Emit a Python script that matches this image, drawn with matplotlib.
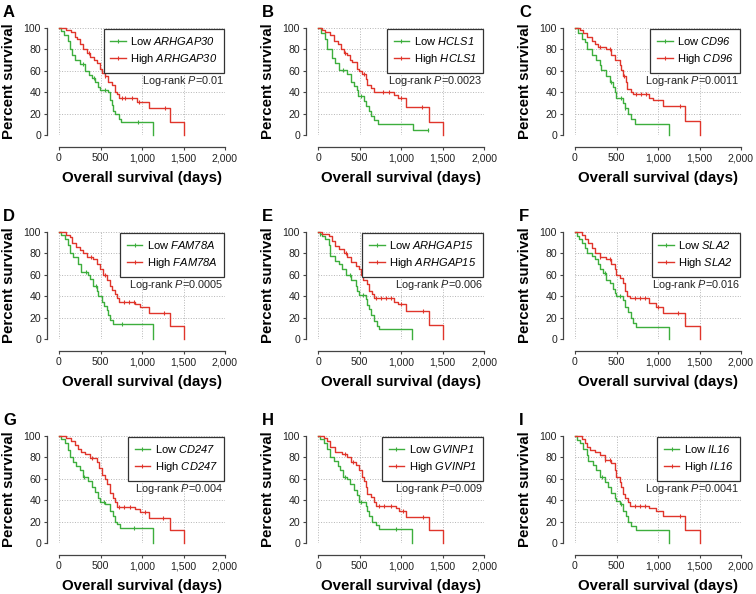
import numpy as np
import matplotlib
matplotlib.use("Agg")
import matplotlib.pyplot as plt
from matplotlib.lines import Line2D

plt.rcParams['font.family'] = ['Liberation Sans', 'DejaVu Sans']
# mathtext only used for the italic gene names / P, so make it all italic
plt.rcParams['mathtext.fontset'] = 'custom'
plt.rcParams['mathtext.rm'] = 'Liberation Sans:italic'
plt.rcParams['mathtext.it'] = 'Liberation Sans:italic'

#------------------------- panel info -------------------------
letters = ['A', 'B', 'C', 'D', 'E', 'F', 'G', 'H', 'I']
genes = ['ARHGAP30', 'HCLS1', 'CD96', 'FAM78A', 'ARHGAP15', 'SLA2',
         'CD247', 'GVINP1', 'IL16']
pvals = ['0.01', '0.0023', '0.0011', '0.0005', '0.006', '0.016',
         '0.004', '0.009', '0.0041']

#------------------------- curves (days, % survival) -------------------------
# A
a_low_t = [0, 25, 60, 110, 138, 162, 190, 250, 312, 365, 393, 433, 474, 494, 595, 615, 636, 656, 676, 717, 745, 1130]
a_low_s = [100, 97, 93, 88, 80, 75, 70, 66, 60, 56, 53, 50, 45, 42, 40, 33, 28, 22, 20, 15, 12, 0]
a_low_c = [290, 420, 560, 950]
a_high_t = [0, 90, 150, 190, 219, 251, 291, 340, 372, 421, 462, 494, 514, 555, 595, 636, 676, 696, 717, 939, 1081, 1335, 1510]
a_high_s = [100, 98, 96, 92, 90, 85, 80, 77, 73, 70, 67, 62, 58, 55, 50, 47, 40, 38, 35, 31, 25, 12, 0]
a_high_c = [360, 560, 760, 800, 880, 960, 1280]
# B
b_low_t = [0, 40, 80, 110, 170, 210, 250, 352, 393, 433, 466, 482, 555, 575, 615, 644, 676, 717, 1142, 1320]
b_low_s = [100, 95, 90, 80, 72, 67, 61, 57, 50, 46, 42, 36, 32, 27, 22, 18, 14, 10, 5, 5]
b_low_c = [300, 520, 1320]
b_high_t = [0, 50, 90, 150, 190, 239, 280, 312, 352, 385, 413, 466, 494, 534, 575, 595, 636, 676, 919, 960, 1061, 1340, 1510]
b_high_s = [100, 98, 96, 93, 88, 85, 80, 77, 75, 70, 68, 62, 60, 57, 52, 47, 44, 40, 37, 35, 26, 12, 0]
b_high_c = [330, 560, 780, 850, 1000, 1250]
# C
c_low_t = [0, 40, 80, 120, 147, 199, 259, 299, 319, 378, 418, 458, 478, 498, 578, 598, 637, 677, 717, 1127]
c_low_s = [100, 95, 90, 87, 80, 75, 70, 65, 61, 55, 50, 45, 40, 35, 30, 25, 20, 15, 10, 0]
c_low_c = [430, 560, 600]
c_high_t = [0, 60, 100, 147, 199, 239, 279, 378, 438, 478, 538, 558, 578, 610, 625, 677, 697, 896, 936, 1056, 1323, 1502]
c_high_s = [100, 98, 95, 92, 88, 85, 82, 80, 75, 70, 65, 61, 55, 50, 43, 40, 38, 35, 33, 27, 13, 0]
c_high_c = [300, 420, 590, 740, 800, 860, 1260]
# D
d_low_t = [0, 28, 69, 109, 138, 170, 231, 271, 352, 372, 413, 453, 474, 514, 543, 575, 595, 615, 656, 1130]
d_low_s = [100, 97, 93, 88, 80, 77, 70, 63, 60, 56, 50, 45, 40, 35, 31, 27, 22, 18, 14, 0]
d_low_c = [320, 440, 760]
d_high_t = [0, 89, 130, 162, 202, 251, 291, 332, 413, 453, 494, 534, 575, 615, 644, 676, 696, 725, 919, 980, 1081, 1335, 1510]
d_high_s = [100, 97, 95, 90, 86, 83, 80, 77, 75, 70, 65, 60, 55, 50, 46, 42, 38, 35, 33, 30, 24, 12, 0]
d_high_c = [380, 560, 780, 840, 900, 1260]
# E
e_low_t = [0, 20, 49, 89, 130, 150, 210, 251, 291, 332, 393, 453, 474, 494, 575, 595, 615, 644, 676, 708, 737, 1130]
e_low_s = [100, 98, 96, 93, 88, 78, 73, 70, 65, 60, 55, 50, 45, 41, 37, 32, 28, 22, 17, 12, 9, 0]
e_low_c = [30, 380, 540]
e_high_t = [0, 49, 130, 170, 210, 251, 312, 352, 393, 453, 494, 522, 547, 595, 615, 656, 676, 919, 960, 1061, 1340, 1510]
e_high_s = [100, 98, 96, 92, 87, 84, 80, 77, 72, 68, 65, 60, 55, 51, 45, 42, 38, 35, 33, 26, 13, 0]
e_high_c = [340, 700, 760, 820, 880, 1000, 1260]
# F
f_low_t = [0, 28, 52, 80, 120, 147, 199, 239, 279, 299, 339, 378, 418, 458, 478, 498, 578, 598, 637, 677, 697, 737, 1127]
f_low_s = [100, 96, 93, 90, 85, 80, 78, 75, 70, 65, 62, 55, 52, 47, 43, 40, 36, 30, 25, 20, 15, 11, 0]
f_low_c = [360, 540]
f_high_t = [0, 80, 120, 159, 199, 239, 299, 378, 438, 478, 498, 538, 578, 598, 625, 657, 896, 976, 1056, 1323, 1502]
f_high_s = [100, 97, 93, 90, 85, 80, 77, 75, 70, 65, 60, 57, 52, 45, 40, 38, 34, 30, 24, 12, 0]
f_high_c = [300, 420, 720, 780, 840, 1000, 1240]
# G
g_low_t = [0, 28, 69, 109, 138, 170, 210, 251, 291, 352, 393, 433, 474, 494, 555, 615, 656, 676, 696, 737, 1130]
g_low_s = [100, 97, 93, 87, 80, 76, 72, 68, 62, 58, 52, 48, 42, 38, 36, 30, 25, 20, 18, 14, 0]
g_low_c = [300, 540, 900]
g_high_t = [0, 89, 150, 190, 231, 271, 312, 372, 453, 486, 514, 555, 583, 615, 648, 676, 696, 919, 980, 1081, 1335, 1510]
g_high_s = [100, 98, 95, 92, 88, 85, 83, 79, 76, 70, 64, 60, 55, 47, 42, 38, 34, 32, 29, 23, 12, 0]
g_high_c = [400, 720, 780, 850, 1040, 1250]
# H
h_low_t = [0, 28, 69, 109, 150, 190, 239, 271, 304, 352, 385, 433, 466, 494, 575, 595, 615, 656, 696, 737, 1130]
h_low_s = [100, 97, 93, 88, 80, 77, 72, 68, 62, 60, 55, 50, 45, 38, 35, 30, 25, 20, 17, 13, 0]
h_low_c = [320, 520, 940]
h_high_t = [0, 69, 109, 150, 210, 291, 352, 393, 453, 494, 534, 555, 575, 595, 636, 676, 696, 939, 980, 1061, 1340, 1510]
h_high_s = [100, 98, 95, 90, 85, 83, 80, 76, 73, 68, 62, 58, 52, 46, 43, 38, 35, 33, 30, 24, 12, 0]
h_high_c = [330, 420, 740, 800, 880, 1020, 1260]
# I
i_low_t = [0, 28, 60, 100, 139, 159, 219, 259, 299, 359, 398, 438, 478, 498, 538, 578, 610, 637, 677, 737, 1127]
i_low_s = [100, 96, 93, 88, 82, 77, 73, 68, 62, 57, 52, 47, 42, 39, 36, 30, 25, 20, 16, 12, 0]
i_low_c = [320, 560]
i_high_t = [0, 80, 120, 147, 179, 239, 299, 359, 438, 478, 498, 538, 558, 578, 598, 637, 657, 896, 976, 1056, 1323, 1502]
i_high_s = [100, 97, 93, 90, 87, 85, 82, 78, 75, 68, 62, 57, 52, 46, 42, 38, 35, 33, 30, 25, 12, 0]
i_high_c = [360, 420, 720, 780, 840, 1260]

x_ticks = [0, 500, 1000, 1500, 2000]
x_ticklabels = ['0', '500', '1,000', '1,500', '2,000']
y_ticks = [0, 20, 40, 60, 80, 100]

panels = [
    (a_low_t, a_low_s, a_low_c, a_high_t, a_high_s, a_high_c),
    (b_low_t, b_low_s, b_low_c, b_high_t, b_high_s, b_high_c),
    (c_low_t, c_low_s, c_low_c, c_high_t, c_high_s, c_high_c),
    (d_low_t, d_low_s, d_low_c, d_high_t, d_high_s, d_high_c),
    (e_low_t, e_low_s, e_low_c, e_high_t, e_high_s, e_high_c),
    (f_low_t, f_low_s, f_low_c, f_high_t, f_high_s, f_high_c),
    (g_low_t, g_low_s, g_low_c, g_high_t, g_high_s, g_high_c),
    (h_low_t, h_low_s, h_low_c, h_high_t, h_high_s, h_high_c),
    (i_low_t, i_low_s, i_low_c, i_high_t, i_high_s, i_high_c),
]

GREEN = '#3dae3d'
RED = '#e0352b'
W, H = 756, 594

#survival value at censor times (step lookup)
def censor_y(t, s, c):
    t = np.asarray(t)
    s = np.asarray(s)
    idx = np.searchsorted(t, c, side='right') - 1
    return s[idx]

def km_plot(ax, t, s, c, color):
    ax.step(t, s, where='post', color=color, lw=1.0, clip_on=False, zorder=3)
    ax.plot(c, censor_y(t, s, c), ls='none', marker='|', ms=3.5, mew=0.8,
            color=color, clip_on=False, zorder=3)

fig = plt.figure(figsize=(W/100, H/100), dpi=100)

col_left = [59, 318, 575]
row_top = [28, 232, 436]
ax_w, ax_h = 166, 107

for k in range(9):
    r, cidx = divmod(k, 3)
    left = col_left[cidx]
    top = row_top[r]
    ax = fig.add_axes([left/W, 1 - (top + ax_h)/H, ax_w/W, ax_h/H])
    lt, ls_, lc, ht, hs, hc = panels[k]
    km_plot(ax, lt, ls_, lc, GREEN)
    km_plot(ax, ht, hs, hc, RED)

    ax.set_xlim(0, 2000)
    ax.set_ylim(0, 100)
    ax.set_xticks(x_ticks)
    ax.set_xticklabels(x_ticklabels)
    ax.set_yticks(y_ticks)
    ax.grid(True, color='#b5b5b5', ls=':', lw=0.7)
    ax.set_axisbelow(True)
    for side in ['top', 'right']:
        ax.spines[side].set_visible(False)
    for side in ['left', 'bottom']:
        ax.spines[side].set_position(('outward', 8.5))
        ax.spines[side].set_color('#444444')
        ax.spines[side].set_linewidth(0.9)
    ax.tick_params(labelsize=7.6, length=2.5, width=0.8, color='#444444',
                   labelcolor='#222222', pad=2)

    ax.set_xlabel('Overall survival (days)', fontsize=10.8, fontweight='bold')
    ax.set_ylabel('Percent survival', fontsize=10.8, fontweight='bold')
    ax.xaxis.set_label_coords(0.5, -0.335)
    ax.yaxis.set_label_coords(-0.262, 0.5)

    gene = genes[k]
    handles = [Line2D([], [], color=GREEN, lw=1.0, marker='|', ms=3.5, mew=0.8),
               Line2D([], [], color=RED, lw=1.0, marker='|', ms=3.5, mew=0.8)]
    labels = ['Low $%s$' % gene, 'High $%s$' % gene]
    leg = ax.legend(handles, labels, loc='upper right', bbox_to_anchor=(0.995, 0.995),
                    borderaxespad=0, fontsize=8, frameon=True, fancybox=False,
                    framealpha=1, edgecolor='#333333', handlelength=1.4,
                    handletextpad=0.4, labelspacing=0.42, borderpad=0.6)
    leg.get_frame().set_linewidth(0.9)

    ax.text(1985, 50, 'Log-rank $P$=%s' % pvals[k], fontsize=7.8,
            ha='right', va='center', color='#222222')

    fig.text((left - 56)/W, 1 - (top - 23)/H, letters[k], fontsize=12,
             fontweight='bold', ha='left', va='top')

fig.savefig('out.png', dpi=100)
